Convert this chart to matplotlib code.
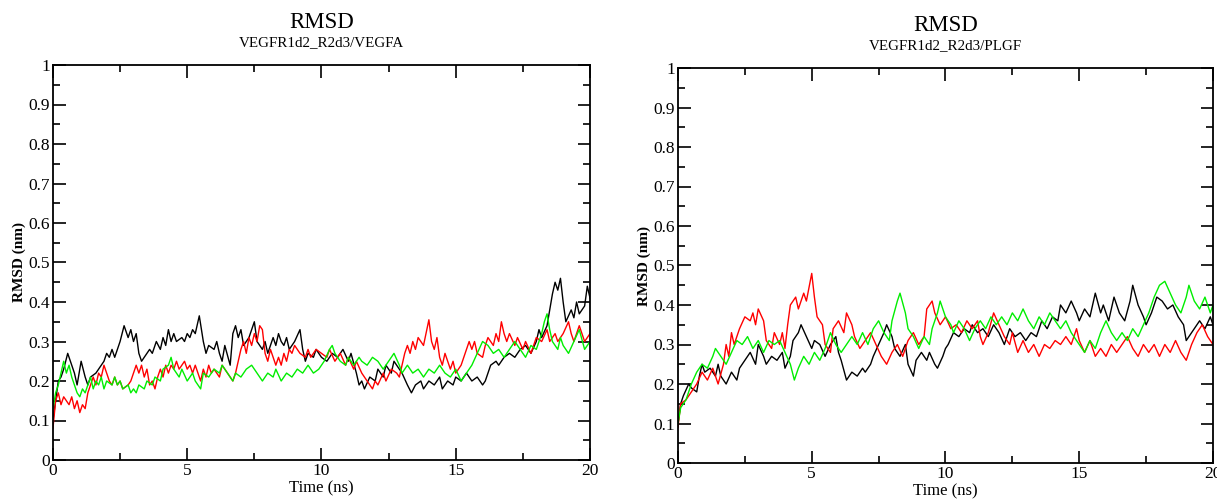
import matplotlib
matplotlib.use("Agg")
import matplotlib.pyplot as plt
from matplotlib.ticker import MultipleLocator

plt.rcParams['font.family'] = ['Liberation Serif', 'DejaVu Serif']

# ---- VEGFR1d2_R2d3/VEGFA (left panel) ----
t_a_black = [0, 0.1, 0.2, 0.3, 0.4, 0.55, 0.7, 0.8, 0.9, 1.05, 1.2, 1.3, 1.4, 1.6, 1.8, 1.9, 2.0,
             2.1, 2.2, 2.3, 2.4, 2.5, 2.65, 2.8, 2.9, 3.0, 3.1, 3.2, 3.3, 3.4, 3.6, 3.7, 3.85, 4.0,
             4.1, 4.2, 4.3, 4.4, 4.5, 4.6, 4.8, 4.9, 5.0, 5.1, 5.2, 5.3, 5.45, 5.6, 5.7, 5.8, 6.0,
             6.1, 6.2, 6.3, 6.4, 6.6, 6.7, 6.8, 6.9, 7.0, 7.1, 7.3, 7.5, 7.6, 7.8, 7.9, 8.0, 8.2,
             8.3, 8.4, 8.5, 8.6, 8.7, 8.8, 9.0, 9.2, 9.3, 9.4, 9.5, 9.7, 9.8, 10.0, 10.2, 10.4,
             10.6, 10.8, 11.0, 11.1, 11.3, 11.4, 11.5, 11.6, 11.8, 12.0, 12.1, 12.3, 12.4, 12.6,
             12.7, 12.9, 13.0, 13.2, 13.35, 13.5, 13.7, 13.8, 14.0, 14.2, 14.4, 14.5, 14.7, 14.9,
             15.0, 15.2, 15.4, 15.6, 15.8, 16.0, 16.1, 16.3, 16.5, 16.6, 16.8, 17.0, 17.2, 17.4,
             17.6, 17.8, 18.0, 18.1, 18.2, 18.4, 18.6, 18.7, 18.8, 18.9, 19.0, 19.1, 19.3, 19.4,
             19.5, 19.6, 19.8, 19.9, 20.0]
v_a_black = [0.10, 0.15, 0.20, 0.21, 0.23, 0.27, 0.24, 0.22, 0.19, 0.25, 0.21, 0.19, 0.21, 0.22, 0.24, 0.25, 0.27,
             0.26, 0.28, 0.26, 0.28, 0.30, 0.34, 0.31, 0.33, 0.30, 0.32, 0.27, 0.25, 0.26, 0.28, 0.27, 0.30, 0.28,
             0.31, 0.29, 0.33, 0.30, 0.32, 0.30, 0.31, 0.30, 0.32, 0.31, 0.33, 0.32, 0.365, 0.30, 0.27, 0.29, 0.28,
             0.30, 0.27, 0.25, 0.29, 0.24, 0.32, 0.34, 0.31, 0.33, 0.29, 0.31, 0.35, 0.30, 0.28, 0.30, 0.27, 0.31,
             0.29, 0.32, 0.30, 0.29, 0.31, 0.28, 0.30, 0.33, 0.28, 0.25, 0.27, 0.26, 0.28, 0.26, 0.25, 0.27,
             0.26, 0.28, 0.25, 0.27, 0.22, 0.19, 0.20, 0.18, 0.21, 0.20, 0.23, 0.21, 0.24, 0.22,
             0.25, 0.23, 0.22, 0.19, 0.17, 0.19, 0.20, 0.18, 0.20, 0.19, 0.21, 0.18, 0.20, 0.19,
             0.21, 0.20, 0.22, 0.20, 0.21, 0.19, 0.20, 0.24, 0.25, 0.24, 0.26, 0.27, 0.26, 0.28,
             0.29, 0.27, 0.30, 0.33, 0.31, 0.34, 0.42, 0.45, 0.43, 0.46, 0.40, 0.35, 0.38, 0.36,
             0.40, 0.37, 0.39, 0.44, 0.41]

t_a_red = [0, 0.1, 0.2, 0.3, 0.4, 0.5, 0.6, 0.7, 0.8, 0.9, 1.0, 1.1, 1.2, 1.3, 1.4, 1.5, 1.6, 1.7,
           1.8, 1.9, 2.0, 2.1, 2.2, 2.3, 2.4, 2.5, 2.6, 2.8, 2.9, 3.0, 3.1, 3.2, 3.3, 3.4, 3.5, 3.6,
           3.7, 3.8, 3.9, 4.0, 4.1, 4.2, 4.3, 4.4, 4.5, 4.6, 4.7, 4.8, 4.9, 5.0, 5.1, 5.2, 5.3, 5.4,
           5.5, 5.6, 5.7, 5.8, 5.9, 6.0, 6.2, 6.3, 6.5, 6.7, 6.8, 6.9, 7.0, 7.1, 7.2, 7.3, 7.4, 7.5,
           7.6, 7.7, 7.8, 7.9, 8.0, 8.1, 8.2, 8.3, 8.4, 8.5, 8.6, 8.7, 8.8, 8.9, 9.0, 9.2, 9.4, 9.5,
           9.6, 9.8, 10.0, 10.2, 10.3, 10.5, 10.7, 10.9, 11.0, 11.2, 11.3, 11.5, 11.7, 11.9, 12.0,
           12.1, 12.3, 12.4, 12.6, 12.8, 12.9, 13.0, 13.1, 13.2, 13.3, 13.4, 13.5, 13.6, 13.8, 14.0,
           14.1, 14.2, 14.3, 14.4, 14.5, 14.6, 14.7, 14.8, 14.9, 15.0, 15.2, 15.3, 15.4, 15.5, 15.6,
           15.7, 15.8, 16.0, 16.1, 16.2, 16.4, 16.5, 16.6, 16.7, 16.8, 16.9, 17.0, 17.2, 17.3, 17.5,
           17.6, 17.8, 17.9, 18.0, 18.2, 18.4, 18.5, 18.7, 18.8, 19.0, 19.2, 19.3, 19.4, 19.5, 19.6,
           19.8, 20.0]
v_a_red = [0.08, 0.15, 0.17, 0.14, 0.16, 0.15, 0.14, 0.16, 0.13, 0.15, 0.12, 0.14, 0.13, 0.17, 0.19, 0.21, 0.19, 0.22,
           0.21, 0.24, 0.22, 0.20, 0.19, 0.21, 0.19, 0.20, 0.18, 0.19, 0.20, 0.22, 0.24, 0.22, 0.24, 0.21, 0.23, 0.19,
           0.20, 0.18, 0.21, 0.23, 0.21, 0.24, 0.22, 0.24, 0.23, 0.25, 0.23, 0.24, 0.25, 0.23, 0.24, 0.22, 0.24, 0.22,
           0.20, 0.23, 0.21, 0.24, 0.22, 0.23, 0.21, 0.24, 0.22, 0.20, 0.22, 0.25, 0.28, 0.30, 0.27, 0.31, 0.29, 0.32,
           0.30, 0.34, 0.33, 0.27, 0.25, 0.28, 0.26, 0.24, 0.26, 0.24, 0.27, 0.25, 0.28, 0.27, 0.29, 0.27, 0.26, 0.28,
           0.26, 0.28, 0.27, 0.26, 0.28, 0.25, 0.27, 0.24, 0.26, 0.23, 0.25, 0.22, 0.20, 0.18, 0.20,
           0.19, 0.22, 0.20, 0.23, 0.22, 0.21, 0.24, 0.27, 0.29, 0.27, 0.30, 0.28, 0.31, 0.29, 0.355,
           0.30, 0.28, 0.31, 0.26, 0.24, 0.27, 0.25, 0.23, 0.25, 0.22, 0.24, 0.26, 0.28, 0.30, 0.28,
           0.30, 0.27, 0.26, 0.29, 0.31, 0.29, 0.32, 0.30, 0.35, 0.32, 0.30, 0.32, 0.29, 0.31, 0.28,
           0.30, 0.27, 0.29, 0.31, 0.30, 0.33, 0.30, 0.32, 0.30, 0.32, 0.35, 0.32, 0.30, 0.32, 0.34,
           0.30, 0.32]

t_a_green = [0, 0.1, 0.2, 0.3, 0.4, 0.5, 0.6, 0.7, 0.8, 0.9, 1.0, 1.1, 1.2, 1.3, 1.4, 1.5, 1.6, 1.7,
             1.8, 1.9, 2.0, 2.2, 2.3, 2.4, 2.5, 2.6, 2.8, 2.9, 3.0, 3.1, 3.2, 3.4, 3.5, 3.7, 3.8, 4.0,
             4.1, 4.3, 4.4, 4.5, 4.7, 4.8, 5.0, 5.2, 5.3, 5.5, 5.6, 5.8, 6.0, 6.2, 6.3, 6.5, 6.7, 6.8,
             7.0, 7.2, 7.4, 7.6, 7.8, 8.0, 8.2, 8.3, 8.5, 8.7, 8.9, 9.1, 9.3, 9.5, 9.7, 9.9, 10.1,
             10.3, 10.4, 10.5, 10.7, 10.9, 11.0, 11.2, 11.4, 11.5, 11.7, 11.9, 12.1, 12.3, 12.5, 12.7,
             12.9, 13.0, 13.2, 13.4, 13.6, 13.8, 14.0, 14.2, 14.4, 14.6, 14.8, 15.0, 15.2, 15.4, 15.6,
             15.8, 16.0, 16.2, 16.4, 16.6, 16.8, 17.0, 17.2, 17.4, 17.6, 17.8, 18.0, 18.2, 18.3, 18.4,
             18.5, 18.6, 18.8, 18.9, 19.0, 19.2, 19.4, 19.6, 19.8, 20.0]
v_a_green = [0.13, 0.17, 0.19, 0.22, 0.25, 0.22, 0.24, 0.21, 0.19, 0.17, 0.16, 0.18, 0.17, 0.19, 0.21, 0.18, 0.20, 0.19,
             0.21, 0.18, 0.20, 0.19, 0.21, 0.19, 0.20, 0.18, 0.19, 0.17, 0.18, 0.17, 0.19, 0.18, 0.20, 0.19, 0.21, 0.20,
             0.23, 0.24, 0.26, 0.23, 0.21, 0.23, 0.20, 0.22, 0.20, 0.18, 0.22, 0.21, 0.23, 0.22, 0.24, 0.22, 0.20, 0.22,
             0.21, 0.23, 0.24, 0.22, 0.20, 0.22, 0.21, 0.23, 0.20, 0.22, 0.21, 0.23, 0.22, 0.24, 0.22, 0.23, 0.25,
             0.28, 0.29, 0.27, 0.25, 0.24, 0.26, 0.24, 0.26, 0.25, 0.24, 0.26, 0.25, 0.23, 0.25, 0.27,
             0.24, 0.22, 0.24, 0.22, 0.23, 0.21, 0.23, 0.22, 0.24, 0.22, 0.21, 0.23, 0.20, 0.22, 0.24,
             0.27, 0.30, 0.29, 0.27, 0.28, 0.26, 0.28, 0.30, 0.28, 0.26, 0.29, 0.28, 0.32, 0.35, 0.37,
             0.33, 0.30, 0.28, 0.31, 0.29, 0.27, 0.30, 0.33, 0.28, 0.30]

# ---- VEGFR1d2_R2d3/PLGF (right panel) ----
t_b_black = [0, 0.1, 0.2, 0.4, 0.5, 0.7, 0.8, 0.9, 1.0, 1.2, 1.4, 1.5, 1.6, 1.8, 2.0, 2.2, 2.3, 2.5,
             2.7, 2.9, 3.0, 3.2, 3.3, 3.5, 3.7, 3.9, 4.0, 4.2, 4.3, 4.5, 4.6, 4.8, 5.0, 5.1, 5.3, 5.5,
             5.7, 5.9, 6.0, 6.1, 6.3, 6.5, 6.7, 6.9, 7.0, 7.2, 7.3, 7.5, 7.7, 7.8, 8.0, 8.1, 8.3, 8.5,
             8.6, 8.8, 8.9, 9.1, 9.3, 9.4, 9.6, 9.7, 9.9, 10.0, 10.1, 10.3, 10.5, 10.7, 10.9, 11.0,
             11.2, 11.4, 11.6, 11.8, 12.0, 12.2, 12.4, 12.6, 12.8, 13.0, 13.2, 13.4, 13.6, 13.8, 14.0,
             14.2, 14.3, 14.5, 14.7, 14.9, 15.0, 15.2, 15.4, 15.6, 15.8, 15.9, 16.1, 16.3, 16.5, 16.7,
             16.9, 17.0, 17.2, 17.4, 17.5, 17.7, 17.9, 18.1, 18.3, 18.5, 18.7, 18.9, 19.0, 19.2, 19.5,
             19.7, 19.9, 20.0]
v_b_black = [0.10, 0.15, 0.17, 0.20, 0.19, 0.18, 0.22, 0.25, 0.23, 0.24, 0.22, 0.25, 0.22, 0.20, 0.23, 0.21, 0.24, 0.26,
             0.28, 0.25, 0.30, 0.27, 0.25, 0.27, 0.26, 0.28, 0.24, 0.27, 0.31, 0.33, 0.35, 0.32, 0.29, 0.31, 0.30, 0.27,
             0.30, 0.32, 0.28, 0.26, 0.21, 0.23, 0.22, 0.24, 0.23, 0.25, 0.27, 0.30, 0.33, 0.35, 0.32, 0.29, 0.27, 0.30,
             0.25, 0.22, 0.26, 0.28, 0.26, 0.28, 0.25, 0.24, 0.27, 0.29, 0.30, 0.33, 0.32, 0.34, 0.33, 0.35,
             0.33, 0.34, 0.32, 0.35, 0.33, 0.30, 0.34, 0.32, 0.33, 0.31, 0.33, 0.32, 0.36, 0.34, 0.37,
             0.36, 0.40, 0.38, 0.41, 0.38, 0.36, 0.39, 0.37, 0.43, 0.38, 0.40, 0.36, 0.42, 0.38, 0.36,
             0.41, 0.45, 0.40, 0.37, 0.35, 0.38, 0.42, 0.41, 0.39, 0.40, 0.37, 0.35, 0.31, 0.33, 0.36,
             0.34, 0.37, 0.35]

t_b_red = [0, 0.1, 0.3, 0.5, 0.7, 0.9, 1.1, 1.3, 1.4, 1.5, 1.7, 1.8, 1.9, 2.0, 2.1, 2.3, 2.5, 2.7,
           2.8, 2.9, 3.0, 3.2, 3.3, 3.5, 3.6, 3.8, 3.9, 4.0, 4.1, 4.2, 4.4, 4.5, 4.7, 4.8, 5.0, 5.1,
           5.2, 5.4, 5.5, 5.7, 5.8, 6.0, 6.2, 6.3, 6.5, 6.6, 6.8, 7.0, 7.2, 7.4, 7.6, 7.8, 8.0, 8.2,
           8.4, 8.6, 8.8, 9.0, 9.2, 9.3, 9.5, 9.6, 9.8, 10.0, 10.2, 10.4, 10.6, 10.8, 11.0, 11.2,
           11.3, 11.4, 11.6, 11.8, 12.0, 12.2, 12.4, 12.5, 12.7, 12.9, 13.1, 13.3, 13.5, 13.7, 13.9,
           14.1, 14.3, 14.5, 14.7, 14.9, 15.0, 15.2, 15.4, 15.6, 15.8, 16.0, 16.2, 16.4, 16.6, 16.8,
           17.0, 17.2, 17.4, 17.6, 17.8, 18.0, 18.2, 18.4, 18.6, 18.8, 19.0, 19.2, 19.4, 19.6, 19.8,
           20.0]
v_b_red = [0.09, 0.15, 0.16, 0.18, 0.20, 0.23, 0.21, 0.24, 0.22, 0.20, 0.25, 0.30, 0.27, 0.33, 0.30, 0.34, 0.37, 0.36,
           0.38, 0.35, 0.39, 0.36, 0.31, 0.29, 0.33, 0.30, 0.33, 0.29, 0.35, 0.40, 0.42, 0.39, 0.43, 0.41, 0.48, 0.42,
           0.37, 0.35, 0.30, 0.28, 0.34, 0.36, 0.33, 0.38, 0.35, 0.32, 0.29, 0.31, 0.33, 0.30, 0.27, 0.25, 0.28, 0.30,
           0.27, 0.31, 0.33, 0.30, 0.32, 0.39, 0.41, 0.38, 0.35, 0.37, 0.34, 0.35, 0.33, 0.36, 0.34, 0.36,
           0.32, 0.30, 0.33, 0.38, 0.35, 0.32, 0.30, 0.33, 0.28, 0.31, 0.28, 0.30, 0.27, 0.30, 0.29,
           0.31, 0.30, 0.32, 0.30, 0.34, 0.31, 0.28, 0.31, 0.27, 0.29, 0.27, 0.30, 0.28, 0.30, 0.32,
           0.29, 0.27, 0.30, 0.28, 0.30, 0.27, 0.30, 0.28, 0.31, 0.28, 0.26, 0.30, 0.33, 0.35, 0.32,
           0.30]

t_b_green = [0, 0.1, 0.3, 0.5, 0.7, 0.9, 1.1, 1.3, 1.4, 1.6, 1.8, 2.0, 2.2, 2.4, 2.6, 2.8, 3.0, 3.2,
             3.4, 3.6, 3.8, 4.0, 4.2, 4.35, 4.5, 4.7, 4.9, 5.1, 5.3, 5.5, 5.7, 5.9, 6.1, 6.3, 6.5, 6.7,
             6.9, 7.1, 7.3, 7.5, 7.7, 7.9, 8.0, 8.2, 8.3, 8.5, 8.6, 8.8, 9.0, 9.2, 9.4, 9.5, 9.7, 9.8,
             10.0, 10.2, 10.3, 10.5, 10.7, 10.9, 11.1, 11.3, 11.5, 11.7, 11.9, 12.1, 12.3, 12.5, 12.7,
             12.9, 13.1, 13.3, 13.5, 13.7, 13.9, 14.1, 14.3, 14.5, 14.7, 14.9, 15.0, 15.2, 15.4, 15.6,
             15.8, 16.0, 16.2, 16.4, 16.6, 16.8, 17.0, 17.2, 17.4, 17.6, 17.8, 18.0, 18.2, 18.4, 18.6,
             18.8, 19.0, 19.1, 19.3, 19.5, 19.7, 19.9, 20.0]
v_b_green = [0.10, 0.14, 0.16, 0.20, 0.23, 0.25, 0.24, 0.27, 0.29, 0.27, 0.25, 0.28, 0.31, 0.30, 0.32, 0.29, 0.31, 0.28,
             0.31, 0.30, 0.31, 0.28, 0.25, 0.21, 0.24, 0.27, 0.25, 0.28, 0.26, 0.29, 0.33, 0.30, 0.28, 0.30, 0.32, 0.30,
             0.33, 0.30, 0.34, 0.36, 0.33, 0.31, 0.36, 0.41, 0.43, 0.38, 0.34, 0.32, 0.29, 0.32, 0.30, 0.34, 0.38, 0.41,
             0.37, 0.35, 0.33, 0.36, 0.34, 0.31, 0.34, 0.36, 0.34, 0.37, 0.35, 0.37, 0.35, 0.38, 0.36,
             0.39, 0.36, 0.34, 0.37, 0.35, 0.38, 0.36, 0.34, 0.36, 0.33, 0.31, 0.30, 0.28, 0.31, 0.29,
             0.33, 0.36, 0.33, 0.31, 0.33, 0.31, 0.34, 0.32, 0.35, 0.38, 0.42, 0.45, 0.46, 0.43, 0.40,
             0.38, 0.42, 0.45, 0.41, 0.39, 0.42, 0.38, 0.40]

panels = [
    ("VEGFR1d2_R2d3/VEGFA", [(t_a_black, v_a_black), (t_a_red, v_a_red), (t_a_green, v_a_green)],
     [0.0435, 0.08, 0.4413, 0.79]),
    ("VEGFR1d2_R2d3/PLGF", [(t_b_black, v_b_black), (t_b_red, v_b_red), (t_b_green, v_b_green)],
     [0.5571, 0.074, 0.4396, 0.79]),
]
colors = ['black', '#ff0000', '#00ee00']

fig = plt.figure(figsize=(12.17, 5), dpi=100)

for subtitle, series, rect in panels:
    ax = fig.add_axes(rect)
    for (t, v), c in zip(series, colors):
        ax.plot(t, v, color=c, lw=1.0)
    ax.set_xlim(0, 20)
    ax.set_ylim(0, 1)
    ax.xaxis.set_major_locator(MultipleLocator(5))
    ax.xaxis.set_minor_locator(MultipleLocator(2.5))
    ax.yaxis.set_major_locator(MultipleLocator(0.1))
    ax.yaxis.set_minor_locator(MultipleLocator(0.05))
    ax.yaxis.set_major_formatter(plt.FuncFormatter(lambda y, p: ('%g' % round(y, 2))))
    ax.tick_params(which='both', direction='in', top=True, right=True, width=1.2, labelsize=12.5, pad=2)
    ax.tick_params(which='major', length=9)
    ax.tick_params(which='minor', length=5)
    for s in ax.spines.values():
        s.set_linewidth(1.3)
    ax.set_xlabel('Time (ns)', fontsize=12, labelpad=1)
    ax.set_ylabel('RMSD (nm)', fontsize=11, fontweight='bold', labelpad=2)
    ax.text(0.5, 1.108, 'RMSD', transform=ax.transAxes, ha='center', va='center', fontsize=16.5)
    ax.text(0.5, 1.056, subtitle, transform=ax.transAxes, ha='center', va='center', fontsize=10.8)

fig.savefig('out.png', dpi=100)
